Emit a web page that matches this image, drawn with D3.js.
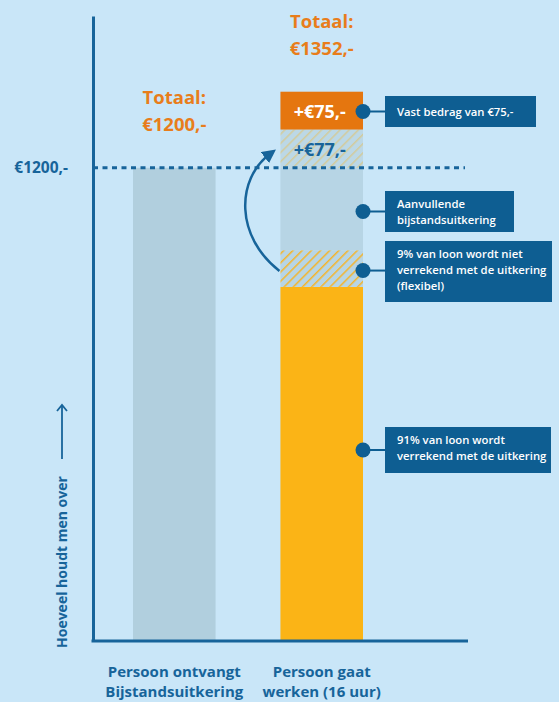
<!DOCTYPE html>
<html>
<head>
<meta charset="utf-8">
<script src="https://cdn.jsdelivr.net/npm/d3@7"></script>
<style>
  body { margin: 0; background: #c9e6f8; }
  svg { display: block; font-family: "Open Sans", sans-serif; }
</style>
</head>
<body>
<div id="chart"></div>
<script>
// categories (x axis)
var categories = ["Persoon ontvangt|Bijstandsuitkering", "Persoon gaat|werken (16 uur)"];
// bar 1: bijstand only
var bijstandValue = 1200;
// bar 2: stacked segments, bottom to top (heights as drawn)
var segNames = ["verrekend", "flexibel", "aanvullend", "extra77", "vast75"];
var segValues = [898, 93, 209, 97, 96];
// texts
var totals = ["Totaal:|€1200,-", "Totaal:|€1352,-"];
var segLabels = ["", "", "", "+€77,-", "+€75,-"];
var refTick = [1200];
var boxTexts = [
  {seg: "vast75", lines: ["Vast bedrag van €75,-"]},
  {seg: "aanvullend", lines: ["Aanvullende", "bijstandsuitkering"]},
  {seg: "flexibel", lines: ["9% van loon wordt niet", "verrekend met de uitkering", "(flexibel)"]},
  {seg: "verrekend", lines: ["91% van loon wordt", "verrekend met de uitkering"]}
];

var width = 559, height = 702;
var dark = "#17649a", boxBlue = "#0e5e92", orange = "#e5760f", yellow = "#fbb416";

var svg = d3.select("#chart").append("svg")
  .attr("width", width).attr("height", height);

svg.append("rect").attr("width", width).attr("height", height).attr("fill", "#c9e6f8");

var defs = svg.append("defs");
function hatch(id, bg, op) {
  var p = defs.append("pattern").attr("id", id)
    .attr("patternUnits", "userSpaceOnUse")
    .attr("width", 6.5).attr("height", 6.5)
    .attr("patternTransform", "rotate(45)");
  p.append("rect").attr("width", 6.5).attr("height", 6.5).attr("fill", bg);
  p.append("line").attr("x1", 0).attr("y1", 0).attr("x2", 0).attr("y2", 6.5)
    .attr("stroke", "#f4b52c").attr("stroke-width", 3).attr("opacity", op);
}
hatch("hatchStrong", "#b7d5e5", 1);
hatch("hatchFaint", "#bcd8e6", 0.4);

defs.append("marker").attr("id", "arrowHead")
  .attr("viewBox", "0 0 10 10").attr("refX", 5).attr("refY", 5)
  .attr("markerWidth", 5.5).attr("markerHeight", 5.5)
  .attr("markerUnits", "strokeWidth")
  .attr("orient", "auto")
  .append("path").attr("d", "M0,0 L10,5 L0,10 z").attr("fill", dark);

// scales
var xScale = d3.scaleBand().domain(categories).range([133, 363])
  .paddingInner(0.44).paddingOuter(0);
var yScale = d3.scaleLinear().domain([0, 1585]).range([641, 16]);

// stack segments
var cum = 0;
var segs = segValues.map(function(v, i) {
  var s = {name: segNames[i], y0: cum, y1: cum + v, label: segLabels[i]};
  cum += v;
  return s;
});
var segFill = {verrekend: yellow, flexibel: "url(#hatchStrong)", aanvullend: "#b7d5e5",
  extra77: "url(#hatchFaint)", vast75: orange};

// bar 1
svg.append("rect")
  .attr("x", xScale(categories[0]))
  .attr("y", yScale(bijstandValue))
  .attr("width", xScale.bandwidth())
  .attr("height", yScale(0) - yScale(bijstandValue))
  .attr("fill", "#b1cfde");

// bar 2 segments
svg.selectAll("rect.seg").data(segs).enter().append("rect")
  .attr("class", "seg")
  .attr("x", xScale(categories[1]))
  .attr("y", d => yScale(d.y1))
  .attr("width", xScale.bandwidth())
  .attr("height", d => yScale(d.y0) - yScale(d.y1))
  .attr("fill", d => segFill[d.name]);

// segment labels
svg.selectAll("text.segLabel").data(segs.filter(d => d.label)).enter().append("text")
  .attr("x", xScale(categories[1]) + xScale.bandwidth() / 2 - 2)
  .attr("y", d => (yScale(d.y0) + yScale(d.y1)) / 2 + 7)
  .attr("text-anchor", "middle")
  .attr("font-size", 18).attr("font-weight", 700)
  .attr("fill", d => d.name == "vast75" ? "#fff" : dark)
  .text(d => d.label);

// dashed reference line
svg.append("line")
  .attr("x1", 93).attr("x2", 465)
  .attr("y1", yScale(refTick[0])).attr("y2", yScale(refTick[0]))
  .attr("stroke", dark).attr("stroke-width", 3)
  .attr("stroke-dasharray", "5,4.5");

// y axis
var yAxis = d3.axisLeft(yScale).tickValues(refTick).tickSize(0).tickSizeOuter(0)
  .tickPadding(25).tickFormat(d => "€" + d + ",-");
var yg = svg.append("g").attr("transform", "translate(93,0)").call(yAxis);
yg.select(".domain").attr("stroke", dark).attr("stroke-width", 3);
yg.selectAll("text").attr("font-size", 15.5).attr("font-weight", 700)
  .attr("fill", dark).attr("font-family", "Open Sans").attr("dy", "0.32em");

// x axis line
svg.append("line").attr("x1", 91.5).attr("x2", 468)
  .attr("y1", yScale(0)).attr("y2", yScale(0))
  .attr("stroke", dark).attr("stroke-width", 3);

// category labels
categories.forEach(function(c) {
  var t = svg.append("text")
    .attr("x", xScale(c) + xScale.bandwidth() / 2)
    .attr("y", 677)
    .attr("text-anchor", "middle")
    .attr("font-size", 15).attr("font-weight", 700).attr("fill", dark);
  c.split("|").forEach(function(line, i) {
    t.append("tspan").attr("x", xScale(c) + xScale.bandwidth() / 2)
      .attr("dy", i ? 20 : 0).text(line);
  });
});

// totals
var tops = [bijstandValue, cum];
totals.forEach(function(txt, i) {
  var cx = xScale(categories[i]) + xScale.bandwidth() / 2;
  var t = svg.append("text").attr("text-anchor", "middle")
    .attr("x", cx).attr("y", yScale(tops[i]) - 64)
    .attr("font-size", 18.5).attr("font-weight", 700).attr("fill", "#e87d1b");
  txt.split("|").forEach(function(line, j) {
    t.append("tspan").attr("x", cx).attr("dy", j ? 27 : 0).text(line);
  });
});

// y title with arrow
svg.append("text")
  .attr("transform", "translate(67,648) rotate(-90)")
  .attr("font-size", 14).attr("font-weight", 700).attr("fill", dark)
  .text("Hoeveel houdt men over");
svg.append("line").attr("x1", 62).attr("x2", 62).attr("y1", 459).attr("y2", 406)
  .attr("stroke", dark).attr("stroke-width", 1.8);
svg.append("path").attr("d", "M57,411 L62,405 L67,411")
  .attr("fill", "none").attr("stroke", dark).attr("stroke-width", 1.8);

// curved arrow from hatched part up to +77
var flex = segs[1], ex = segs[3];
var bx = xScale(categories[1]);
svg.append("path")
  .attr("d", "M" + (bx - 1) + "," + (yScale(flex.y0) - 16) +
    " C" + (bx - 45) + "," + (yScale(flex.y0) - 50) + " " +
    (bx - 45) + "," + (yScale(ex.y1) + 50) + " " +
    (bx - 10) + "," + (yScale(ex.y1) + 24))
  .attr("fill", "none").attr("stroke", dark).attr("stroke-width", 2.5)
  .attr("marker-end", "url(#arrowHead)");

// annotation boxes
var boxPos = {vast75: [96, 31, 151], aanvullend: [191, 41, 129], flexibel: [241, 61, 167], verrekend: [427, 46, 166]};
var dotX = bx + xScale.bandwidth();
boxTexts.forEach(function(b) {
  var s = segs.find(d => d.name == b.seg);
  var p = boxPos[b.seg];
  var dotY = b.seg == "flexibel" ? (yScale(s.y0) + yScale(s.y1)) / 2 + 2 : p[0] + p[1] / 2;
  svg.append("line").attr("x1", dotX).attr("x2", 387).attr("y1", dotY).attr("y2", dotY)
    .attr("stroke", boxBlue).attr("stroke-width", 2);
  svg.append("circle").attr("cx", dotX).attr("cy", dotY).attr("r", 7.5).attr("fill", boxBlue);
  svg.append("rect").attr("x", 385).attr("y", p[0]).attr("width", p[2]).attr("height", p[1])
    .attr("fill", boxBlue);
  var t = svg.append("text").attr("fill", "#fff").attr("font-size", 11.3)
    .attr("font-weight", 600).attr("y", p[0] + (b.lines.length == 1 ? 19.5 : 16.5));
  b.lines.forEach(function(line, i) {
    t.append("tspan").attr("x", 397).attr("dy", i ? 16 : 0).text(line);
  });
});
</script>
</body>
</html>
